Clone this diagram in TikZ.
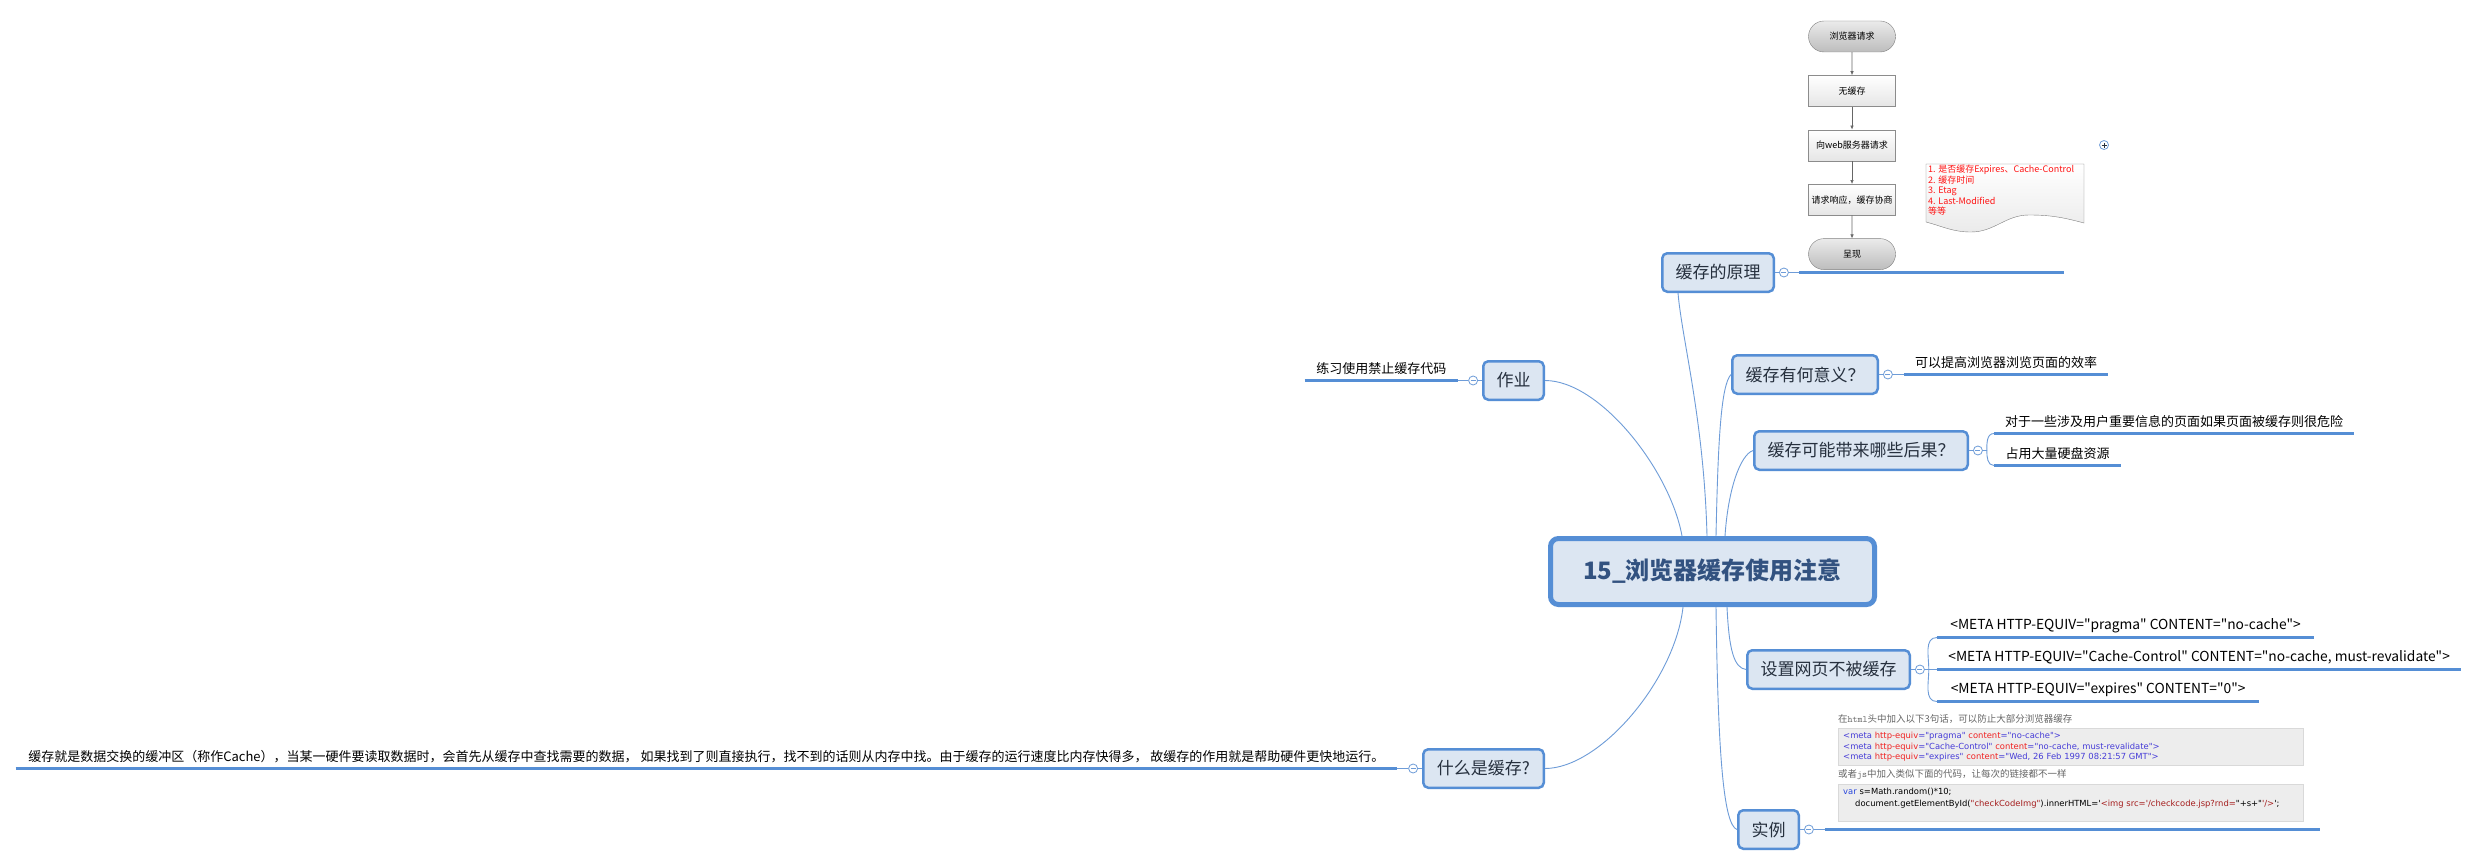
\documentclass[tikz,border=0pt]{standalone}
\usepackage{fontspec}
\setmainfont{Noto Sans CJK SC}[Ligatures=TeXOff]
\newfontfamily\codefont{DejaVu Sans}[Ligatures=TeXOff]
\usetikzlibrary{arrows.meta,positioning,shapes.misc}

\definecolor{boxfill}{RGB}{220,230,242}
\definecolor{boxline}{RGB}{85,142,213}
\definecolor{thinline}{RGB}{110,156,216}
\definecolor{topictext}{RGB}{38,48,62}
\definecolor{roottext}{RGB}{50,82,128}
\definecolor{memored}{RGB}{255,20,20}
\definecolor{codebg}{RGB}{237,237,237}
\definecolor{tagblue}{RGB}{70,60,215}
\definecolor{attrred}{RGB}{240,35,35}
\definecolor{jsblue}{RGB}{40,70,220}
\definecolor{jsred}{RGB}{165,30,30}

\newcommand{\htmltag}[1]{\textcolor{tagblue}{#1}}
\newcommand{\htmlattr}[1]{\textcolor{attrred}{#1}}
\newcommand{\jskey}[1]{\textcolor{jsblue}{#1}}
\newcommand{\jsstr}[1]{\textcolor{jsred}{#1}}

\begin{document}
\begin{tikzpicture}[
    x=1pt, y=1pt,
    topic/.style={rectangle, rounded corners=5pt, draw=boxline, line width=2.5pt, fill=boxfill, text=topictext, minimum height=38.5pt, inner sep=0pt, font=\fontsize{17}{20}\selectfont},
    root/.style={topic, line width=5pt, rounded corners=8pt, minimum width=324pt, minimum height=66pt, text=roottext, font=\fontsize{24}{28}\selectfont\bfseries},
    branch/.style={thinline, line width=0.9pt},
    leafline/.style={boxline, line width=3pt},
    fold/.style={circle, draw=thinline, fill=white, line width=0.8pt, minimum size=9pt, inner sep=0pt,
        path picture={\draw[thinline, line width=0.8pt] ([xshift=-2.5pt]path picture bounding box.center) -- ([xshift=2.5pt]path picture bounding box.center);}},
    foldplus/.style={fold,
        path picture={\draw[topictext, line width=0.8pt] ([xshift=-2.5pt]path picture bounding box.center) -- ([xshift=2.5pt]path picture bounding box.center)
            ([yshift=-2.5pt]path picture bounding box.center) -- ([yshift=2.5pt]path picture bounding box.center);}},
    leaf/.style={anchor=south west, inner xsep=0pt, inner ysep=5pt, text height=10pt, text depth=2pt, font=\fontsize{13}{15}\selectfont},
    metaleaf/.style={leaf, inner ysep=6pt, font=\fontsize{13.8}{16}\selectfont},
    term/.style={rounded rectangle, draw=black!50, top color=black!8, bottom color=black!26, minimum width=87pt, minimum height=31pt, inner sep=0pt, font=\fontsize{9}{11}\selectfont},
    proc/.style={rectangle, draw=black!45, top color=white, bottom color=black!10, minimum width=87pt, minimum height=31pt, inner sep=0pt, font=\fontsize{9}{11}\selectfont},
    flow/.style={-{Latex[length=4pt,width=3.5pt]}, black!60, line width=0.6pt},
    caption/.style={anchor=west, inner sep=0pt, text=black!60, font=\fontsize{9.5}{11}\selectfont},
    codebox/.style={anchor=north west, fill=codebg, draw=black!15, text width=455pt, inner xsep=5pt, inner ysep=2pt, minimum height=37pt, align=left, font=\codefont\fontsize{8.4}{10.5}\selectfont}
]
    \useasboundingbox (0,0) rectangle (2476,-867);
    \fill[white] (0,0) rectangle (2476,-867);

    \node[root] (root) at (1712.5,-571.5) {15\_浏览器缓存使用注意};
    \node[topic, minimum width=111.5pt] (yl) at (1718,-272.5) {缓存的原理};
    \node[topic, minimum width=60.5pt] (zy) at (1513.5,-380.5) {作业};
    \node[topic, minimum width=145.5pt] (yy) at (1805,-374.5) {缓存有何意义？};
    \node[topic, minimum width=213.5pt] (hg) at (1861,-450.5) {缓存可能带来哪些后果？};
    \node[topic, minimum width=162.5pt] (sz) at (1828.5,-669.5) {设置网页不被缓存};
    \node[topic, minimum width=120.5pt] (sm) at (1483.5,-768.5) {什么是缓存?};
    \node[topic, minimum width=60.5pt] (sl) at (1768.5,-829.5) {实例};

    \draw[branch] ([xshift=-30.5pt]root.north) .. controls (1670,-470) and (1600,-380.5) .. (zy.east);
    \draw[branch] ([xshift=-5.5pt]root.north) .. controls (1704,-420) and (1682,-340) .. ([xshift=-40pt]yl.south);
    \draw[branch] ([xshift=3.5pt]root.north) .. controls (1718,-440) and (1721,-385) .. (yy.west);
    \draw[branch] ([xshift=12.5pt]root.north) .. controls (1728,-490) and (1740,-455) .. (hg.west);
    \draw[branch] ([xshift=-29.5pt]root.south) .. controls (1675,-680) and (1600,-768.5) .. (sm.east);
    \draw[branch] ([xshift=14.5pt]root.south) .. controls (1729,-650) and (1734,-668) .. (sz.west);
    \draw[branch] ([xshift=3.5pt]root.south) .. controls (1718,-760) and (1724,-825) .. (sl.west);

    \node[fold, right=4pt of yl] (ylk) {};
    \node[fold, right=4pt of yy] (yyk) {};
    \node[fold, right=4pt of hg] (hgk) {};
    \node[fold, right=4pt of sz] (szk) {};
    \node[fold, right=4pt of sl] (slk) {};
    \node[fold, left=4pt of zy] (zyk) {};
    \node[fold, left=4pt of sm] (smk) {};
    \foreach \t in {yl,yy,hg,sz,sl}
        \draw[branch] (\t.east) -- (\t k);
    \foreach \t in {zy,sm}
        \draw[branch] (\t.west) -- (\t k);

    \node[leaf, minimum width=264pt] (ylleaf) at ([xshift=15.5pt]ylk.center) {};
    \node[leaf, minimum width=204pt] (yyleaf) at ([xshift=16pt]yyk.center) {可以提高浏览器浏览页面的效率};
    \node[leaf, minimum width=360pt] (hga) at ([xshift=16pt,yshift=17pt]hgk.center) {对于一些涉及用户重要信息的页面如果页面被缓存则很危险};
    \node[leaf, minimum width=127pt] (hgb) at ([xshift=16pt,yshift=-15pt]hgk.center) {占用大量硬盘资源};
    \node[metaleaf, minimum width=377pt] (sza) at ([xshift=17pt,yshift=32pt]szk.center) {<META HTTP-EQUIV="pragma" CONTENT="no-cache">};
    \node[metaleaf, minimum width=524pt] (szb) at ([xshift=17pt]szk.center) {<META HTTP-EQUIV="Cache-Control" CONTENT="no-cache, must-revalidate">};
    \node[metaleaf, minimum width=322pt] (szc) at ([xshift=17pt,yshift=-32pt]szk.center) {<META HTTP-EQUIV="expires" CONTENT="0">};
    \node[leaf, minimum width=495pt] (slleaf) at ([xshift=16pt]slk.center) {};
    \node[leaf, anchor=south east, minimum width=153pt] (zyleaf) at ([xshift=-15pt]zyk.center) {练习使用禁止缓存代码};
    \node[leaf, anchor=south east, minimum width=1381pt] (smleaf) at ([xshift=-16pt]smk.center) {缓存就是数据交换的缓冲区（称作Cache），当某一硬件要读取数据时，会首先从缓存中查找需要的数据， 如果找到了则直接执行，找不到的话则从内存中找。由于缓存的运行速度比内存快得多， 故缓存的作用就是帮助硬件更快地运行。};

    \foreach \k/\l in {ylk/ylleaf,yyk/yyleaf,szk/szb,slk/slleaf}
        \draw[branch] (\k) -- (\l.south west);
    \foreach \k/\l in {zyk/zyleaf,smk/smleaf}
        \draw[branch] (\k) -- (\l.south east);
    \draw[branch] (hgk.east) -- ++(4,0) coordinate (hgj);
    \draw[branch] (hgj) to[out=90,in=180] (hga.south west);
    \draw[branch] (hgj) to[out=-90,in=180] (hgb.south west);
    \coordinate (szj) at ([xshift=4pt]szk.east);
    \draw[branch] (szj) to[out=90,in=180] (sza.south west);
    \draw[branch] (szj) to[out=-90,in=180] (szc.south west);
    \foreach \l in {ylleaf,yyleaf,hga,hgb,sza,szb,szc,slleaf,zyleaf,smleaf}
        \draw[leafline] (\l.south west) -- (\l.south east);

    \node[term] (f1) at (1852,-36.5) {浏览器请求};
    \node[proc, below=23pt of f1] (f2) {无缓存};
    \node[proc, below=23pt of f2] (f3) {向web服务器请求};
    \node[proc, below=23pt of f3] (f4) {请求响应，缓存协商};
    \node[term, below=23pt of f4] (f5) {呈现};
    \foreach \a/\b in {f1/f2,f2/f3,f3/f4,f4/f5}
        \draw[flow] (\a) -- (\b);

    \draw[black!50, top color=white, bottom color=black!8] (1926,-164) -- (2084,-164) -- (2084,-223)
        to[out=165,in=0] (2029,-215) to[out=180,in=0] (1971,-232) to[out=180,in=-15] (1926,-222) -- cycle;
    \node[anchor=north west, inner sep=0pt, align=left, text=memored, font=\fontsize{9}{10.5}\selectfont] (memo) at (1928,-165)
        {1. 是否缓存Expires、Cache-Control\\2. 缓存时间\\3. Etag\\4. Last-Modified\\等等};
    \node[foldplus] (more) at (2104,-145) {};

    \node[caption] (cap1) at (1838,-719) {在{\ttfamily html}头中加入以下3句话，可以防止大部分浏览器缓存};
    \node[codebox] (code1) at (1838,-728) {%
        \htmltag{<meta} \htmlattr{http-equiv}\htmltag{="pragma"} \htmlattr{content}\htmltag{="no-cache">}\\
        \htmltag{<meta} \htmlattr{http-equiv}\htmltag{="Cache-Control"} \htmlattr{content}\htmltag{="no-cache, must-revalidate">}\\
        \htmltag{<meta} \htmlattr{http-equiv}\htmltag{="expires"} \htmlattr{content}\htmltag{="Wed, 26 Feb 1997 08:21:57 GMT">}};
    \node[caption] (cap2) at (1838,-775) {或者{\ttfamily js}中加入类似下面的代码，让每次的链接都不一样};
    \node[codebox, font=\codefont\fontsize{8.4}{11.5}\selectfont] (code2) at (1838,-784) {%
        \jskey{var} s=Math.random()*10;\\
        \hspace*{12pt}\mbox{document.getElementById(\jsstr{"checkCodeImg"}).innerHTML='\jsstr{<img src='/checkcode.jsp?rnd=}"+s+"\jsstr{'/>}';}\\[-1pt]
        \mbox{}};
\end{tikzpicture}
\end{document}
